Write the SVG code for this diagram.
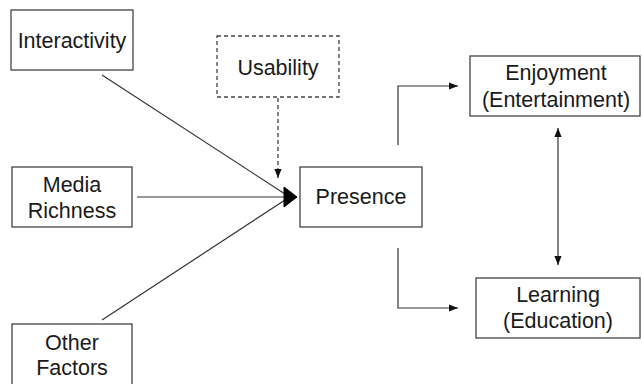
<svg xmlns="http://www.w3.org/2000/svg" width="642" height="384" viewBox="0 0 642 384">
  <style>
    .box { fill: #ffffff; stroke: #444444; stroke-width: 1.3; }
    .dash { stroke-dasharray: 4 3; }
    .lbl { font-family: "Liberation Sans", Arial, sans-serif; font-size: 21.5px; fill: #1a1a1a; text-anchor: middle; }
    .line { fill: none; stroke: #333333; stroke-width: 1.2; }
  </style>
  <defs>
    <marker id="arrow" viewBox="0 0 10 10" refX="10" refY="5" markerWidth="9" markerHeight="9" markerUnits="userSpaceOnUse" orient="auto-start-reverse">
      <path d="M0,1 L10,5 L0,9 Z" fill="#111111"/>
    </marker>
  </defs>
  <rect width="642" height="384" fill="#ffffff"/>

  <g id="connectors">
    <line class="line" x1="102" y1="75" x2="285" y2="194"/>
    <line class="line" x1="137" y1="197" x2="285" y2="197"/>
    <line class="line" x1="102" y1="320" x2="285" y2="200"/>
    <path d="M284,187 L297,197 L284,207 Z" fill="#000000" stroke="#000000" stroke-width="1" stroke-linejoin="round"/>
    <line class="line dash" x1="278" y1="98" x2="278" y2="178" marker-end="url(#arrow)"/>
    <polyline class="line" points="398,145 398,86 458,86" marker-end="url(#arrow)"/>
    <polyline class="line" points="398,248 398,308 458,308" marker-end="url(#arrow)"/>
    <line class="line" x1="558" y1="128" x2="558" y2="265" marker-start="url(#arrow)" marker-end="url(#arrow)"/>
  </g>

  <g id="interactivity">
    <rect class="box" x="11" y="10" width="122" height="60"/>
    <text class="lbl" x="72" y="48">Interactivity</text>
  </g>
  <g id="media-richness">
    <rect class="box" x="12" y="167" width="120" height="60"/>
    <text class="lbl" x="72" y="192">Media</text>
    <text class="lbl" x="72" y="218">Richness</text>
  </g>
  <g id="other-factors">
    <rect class="box" x="12" y="324" width="120" height="64"/>
    <text class="lbl" x="72" y="350">Other</text>
    <text class="lbl" x="72" y="375">Factors</text>
  </g>
  <g id="usability">
    <rect class="box dash" x="217" y="36" width="122" height="61"/>
    <text class="lbl" x="278" y="75">Usability</text>
  </g>
  <g id="presence">
    <rect class="box" x="300" y="167" width="122" height="60"/>
    <text class="lbl" x="361" y="204">Presence</text>
  </g>
  <g id="enjoyment">
    <rect class="box" x="470" y="56" width="170" height="60"/>
    <text class="lbl" x="556" y="80">Enjoyment</text>
    <text class="lbl" x="556" y="107">(Entertainment)</text>
  </g>
  <g id="learning">
    <rect class="box" x="476" y="278" width="164" height="60"/>
    <text class="lbl" x="558" y="302">Learning</text>
    <text class="lbl" x="558" y="328">(Education)</text>
  </g>
</svg>
